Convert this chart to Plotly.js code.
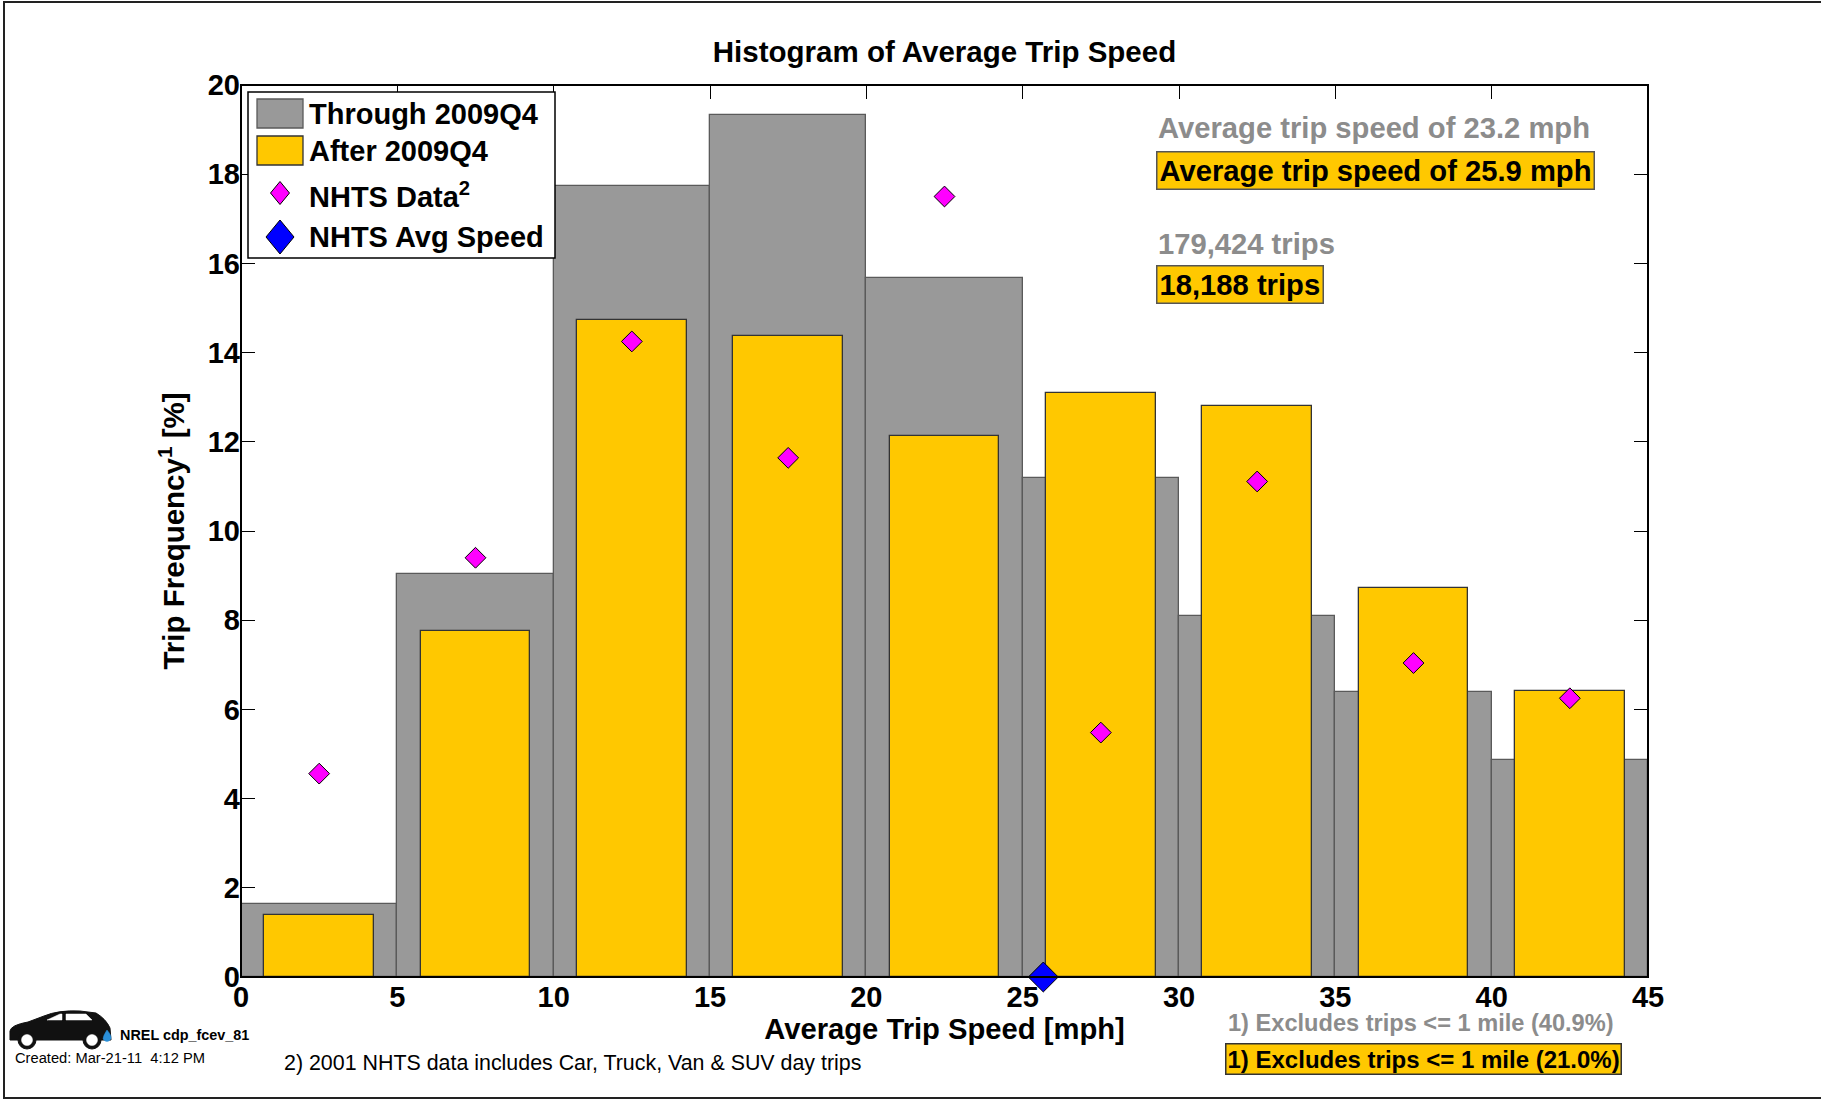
<!DOCTYPE html>
<html>
<head>
<meta charset="utf-8">
<script src="https://cdn.plot.ly/plotly-3.0.1.min.js"></script>
<style>
  html, body { margin: 0; padding: 0; background: #ffffff; }
  #chart { width: 1821px; height: 1100px; }
</style>
</head>
<body>
<div id="chart"></div>
<script>
// ---------------- data ----------------
const binCenters = [2.5, 7.5, 12.5, 17.5, 22.5, 27.5, 32.5, 37.5, 42.5];
const throughVals = [1.64, 9.03, 17.73, 19.32, 15.68, 11.18, 8.09, 6.40, 4.86];   // Through 2009Q4
const afterVals   = [1.38, 7.75, 14.74, 14.38, 12.12, 13.10, 12.81, 8.73, 6.42];  // After 2009Q4
const nhtsVals    = [4.56, 9.40, 14.25, 11.64, 17.50, 5.48, 11.11, 7.04, 6.25];   // NHTS Data
const nhtsAvgSpeed = [25.66];
const nhtsAvgY = [0];
const xTickVals = [0, 5, 10, 15, 20, 25, 30, 35, 40, 45];
const yTickVals = [0, 2, 4, 6, 8, 10, 12, 14, 16, 18, 20];

const seriesNames = ['Through 2009Q4', 'After 2009Q4', 'NHTS Data<sup>2</sup>', 'NHTS Avg Speed'];
const titleText = 'Histogram of Average Trip Speed';
const xTitle = 'Average Trip Speed [mph]';
const yTitle = 'Trip Frequency<sup>1</sup> [%]';
const statGray1 = 'Average trip speed of 23.2 mph';
const statYel1  = 'Average trip speed of 25.9 mph';
const statGray2 = '179,424 trips';
const statYel2  = '18,188 trips';
const noteGray = '1) Excludes trips &lt;= 1 mile (40.9%)';
const noteYel  = '1) Excludes trips &lt;= 1 mile (21.0%)';
const note2    = '2) 2001 NHTS data includes Car, Truck, Van &amp; SUV day trips';
const nrelId   = 'NREL cdp_fcev_81';
const created  = 'Created: Mar-21-11\u00a0 4:12 PM';

// ---------------- styling ----------------
const W = 1821, H = 1100;
const PL = 241, PR = 1648, PT = 85, PB = 977;
const FONT = 'Liberation Sans, Arial, Helvetica, sans-serif';
const GRAY = '#999999', YEL = '#FFC800', TXTGRAY = '#8c8c8c';

// pixel -> paper helpers (layout positions only)
const X = px => (px - PL) / (PR - PL);
const Y = py => (PB - py) / (PB - PT);
function pathFrom(cmds) {
  return cmds.map(c => {
    const L = c[0];
    if (L === 'Z') return 'Z';
    let s = L;
    for (let i = 1; i < c.length; i += 2) {
      s += (i > 1 ? ' ' : '') + X(c[i]).toFixed(5) + ',' + Y(c[i + 1]).toFixed(5);
    }
    return s;
  }).join(' ');
}

const traces = [
  {
    type: 'bar', name: seriesNames[0], x: binCenters, y: throughVals, width: 5,
    marker: { color: GRAY, line: { color: '#5a5a5a', width: 1.3 } },
    opacity: 1, showlegend: false
  },
  {
    type: 'bar', name: seriesNames[1], x: binCenters, y: afterVals, width: 3.5,
    marker: { color: YEL, line: { color: '#333333', width: 1.3 } },
    opacity: 1, showlegend: false
  },
  {
    type: 'scatter', mode: 'markers', name: seriesNames[2], x: binCenters, y: nhtsVals,
    marker: { symbol: 'diamond', size: 16, color: '#FF00FF', line: { color: '#000000', width: 1 } },
    showlegend: false
  },
  {
    type: 'scatter', mode: 'markers', name: seriesNames[3], x: nhtsAvgSpeed, y: nhtsAvgY,
    marker: { symbol: 'diamond', size: 23, color: '#0000FF', line: { color: '#000000', width: 1 } },
    cliponaxis: false, showlegend: false
  }
];

const shapes = [];
// figure border (right edge off-canvas as in the reference)
shapes.push({ type: 'rect', xref: 'paper', yref: 'paper', x0: X(4), x1: X(1840), y0: Y(2), y1: Y(1098),
  line: { color: '#222', width: 2 }, fillcolor: 'rgba(0,0,0,0)', layer: 'below' });
// plot frame
shapes.push({ type: 'rect', xref: 'paper', yref: 'paper', x0: 0, x1: 1, y0: 0, y1: 1,
  line: { color: '#000', width: 2 }, fillcolor: 'rgba(0,0,0,0)', layer: 'above' });

// legend box + swatches
shapes.push({ type: 'rect', xref: 'paper', yref: 'paper', x0: X(248), x1: X(555), y0: Y(92), y1: Y(258),
  line: { color: '#000', width: 1.5 }, fillcolor: '#ffffff', layer: 'above' });
shapes.push({ type: 'rect', xref: 'paper', yref: 'paper', x0: X(257), x1: X(303), y0: Y(99), y1: Y(128),
  line: { color: '#5a5a5a', width: 1.3 }, fillcolor: GRAY, layer: 'above' });
shapes.push({ type: 'rect', xref: 'paper', yref: 'paper', x0: X(257), x1: X(303), y0: Y(136), y1: Y(165),
  line: { color: '#333', width: 1.3 }, fillcolor: YEL, layer: 'above' });
function diamond(cx, cy, w, h) {
  return pathFrom([['M', cx, cy - h / 2], ['L', cx + w / 2, cy], ['L', cx, cy + h / 2], ['L', cx - w / 2, cy], ['Z']]);
}
shapes.push({ type: 'path', xref: 'paper', yref: 'paper', path: diamond(280, 193, 19, 23),
  line: { color: '#000', width: 1 }, fillcolor: '#FF00FF', layer: 'above' });
shapes.push({ type: 'path', xref: 'paper', yref: 'paper', path: diamond(280, 237, 28, 34),
  line: { color: '#000', width: 1 }, fillcolor: '#0000FF', layer: 'above' });

// car icon
shapes.push({ type: 'path', xref: 'paper', yref: 'paper',
  path: pathFrom([
    ['M', 10, 1040], ['L', 10, 1031], ['Q', 11, 1025, 28, 1022], ['L', 44, 1016],
    ['Q', 58, 1010, 80, 1011], ['L', 96, 1013], ['Q', 106, 1019, 110, 1028],
    ['L', 111, 1040], ['Z']
  ]), line: { color: '#111', width: 1 }, fillcolor: '#111', layer: 'above' });
shapes.push({ type: 'path', xref: 'paper', yref: 'paper',
  path: pathFrom([['M', 47, 1020], ['L', 60, 1014], ['L', 62, 1014], ['L', 62, 1020], ['Z']]),
  line: { color: '#fff', width: 0.5 }, fillcolor: '#ffffff', layer: 'above' });
shapes.push({ type: 'path', xref: 'paper', yref: 'paper',
  path: pathFrom([['M', 66, 1014], ['L', 86, 1014], ['L', 92, 1020], ['L', 66, 1020], ['Z']]),
  line: { color: '#fff', width: 0.5 }, fillcolor: '#ffffff', layer: 'above' });
[[27, 1040], [92, 1040]].forEach(c => {
  shapes.push({ type: 'circle', xref: 'paper', yref: 'paper', x0: X(c[0] - 9), x1: X(c[0] + 9), y0: Y(c[1] + 9), y1: Y(c[1] - 9),
    line: { color: '#111', width: 1 }, fillcolor: '#111', layer: 'above' });
  shapes.push({ type: 'circle', xref: 'paper', yref: 'paper', x0: X(c[0] - 5.5), x1: X(c[0] + 5.5), y0: Y(c[1] + 5.5), y1: Y(c[1] - 5.5),
    line: { color: '#fff', width: 0.5 }, fillcolor: '#ffffff', layer: 'above' });
});
shapes.push({ type: 'path', xref: 'paper', yref: 'paper',
  path: pathFrom([['M', 107, 1030], ['Q', 112, 1036, 111, 1039], ['Q', 107, 1044, 103, 1039], ['Q', 103, 1036, 107, 1030], ['Z']]),
  line: { color: '#2a8fd8', width: 0.5 }, fillcolor: '#2a8fd8', layer: 'above' });

const ann = [];
function txt(text, px, py, size, color, bold, extra) {
  const a = Object.assign({
    text: bold ? '<b>' + text + '</b>' : text,
    xref: 'paper', yref: 'paper', x: X(px), y: Y(py), xanchor: 'left', yanchor: 'middle',
    showarrow: false, font: { family: FONT, size: size, color: color }
  }, extra || {});
  ann.push(a);
}
// legend texts
txt(seriesNames[0], 307, 114, 29, '#000', true);
txt(seriesNames[1], 307, 151, 29, '#000', true);
txt(seriesNames[2], 307, 195, 29, '#000', true);
txt(seriesNames[3], 307, 237, 29, '#000', true);
// statistics
txt(statGray1, 1156, 128, 29.2, TXTGRAY, true);
txt(statYel1, 1155.5, 170.5, 29.2, '#000', true, { bgcolor: YEL, bordercolor: '#555', borderwidth: 1.5, borderpad: 2 });
txt(statGray2, 1156, 244, 29.2, TXTGRAY, true);
txt(statYel2, 1155.5, 284.5, 29.2, '#000', true, { bgcolor: YEL, bordercolor: '#555', borderwidth: 1.5, borderpad: 2 });
// footnotes
txt(noteGray, 1226, 1023, 23.6, TXTGRAY, true);
txt(noteYel, 1224.6, 1059, 24, '#000', true, { bgcolor: YEL, bordercolor: '#333', borderwidth: 1.5, borderpad: 1 });
txt(note2, 282, 1063, 21.4, '#000', false);
txt(nrelId, 118, 1035, 14.4, '#000', true);
txt(created, 13, 1058, 14.7, '#000', false);

const layout = {
  width: W, height: H,
  margin: { l: PL, r: W - PR, t: PT, b: H - PB, pad: 0 },
  paper_bgcolor: '#ffffff', plot_bgcolor: '#ffffff',
  barmode: 'overlay', bargap: 0,
  showlegend: false,
  font: { family: FONT, size: 29, color: '#000' },
  title: {
    text: '<b>' + titleText + '</b>',
    x: 0.5, xref: 'paper', xanchor: 'center',
    y: 1 - 52 / H, yref: 'container', yanchor: 'middle',
    font: { family: FONT, size: 29.5, color: '#000' }
  },
  xaxis: {
    range: [0, 45], tickmode: 'array', tickvals: xTickVals,
    ticktext: xTickVals.map(v => '<b>' + v + '</b>'),
    ticks: 'inside', ticklen: 14, tickwidth: 1.3, tickcolor: '#000',
    mirror: 'ticks', showline: false, showgrid: false, zeroline: false,
    layer: 'below traces', automargin: false,
    tickfont: { family: FONT, size: 29, color: '#000' },
    title: { text: '<b>' + xTitle + '</b>', standoff: 4, font: { family: FONT, size: 29.2, color: '#000' } }
  },
  yaxis: {
    range: [0, 20], tickmode: 'array', tickvals: yTickVals,
    ticktext: yTickVals.map(v => '<b>' + v + '</b>'),
    ticks: 'inside', ticklen: 14, tickwidth: 1.3, tickcolor: '#000',
    mirror: 'ticks', showline: false, showgrid: false, zeroline: false,
    layer: 'below traces', automargin: false,
    tickfont: { family: FONT, size: 29, color: '#000' },
    title: { text: '<b>' + yTitle + '</b>', standoff: 14, font: { family: FONT, size: 29.5, color: '#000' } }
  },
  shapes: shapes,
  annotations: ann
};

Plotly.newPlot('chart', traces, layout, { displayModeBar: false, responsive: false });
</script>
</body>
</html>
